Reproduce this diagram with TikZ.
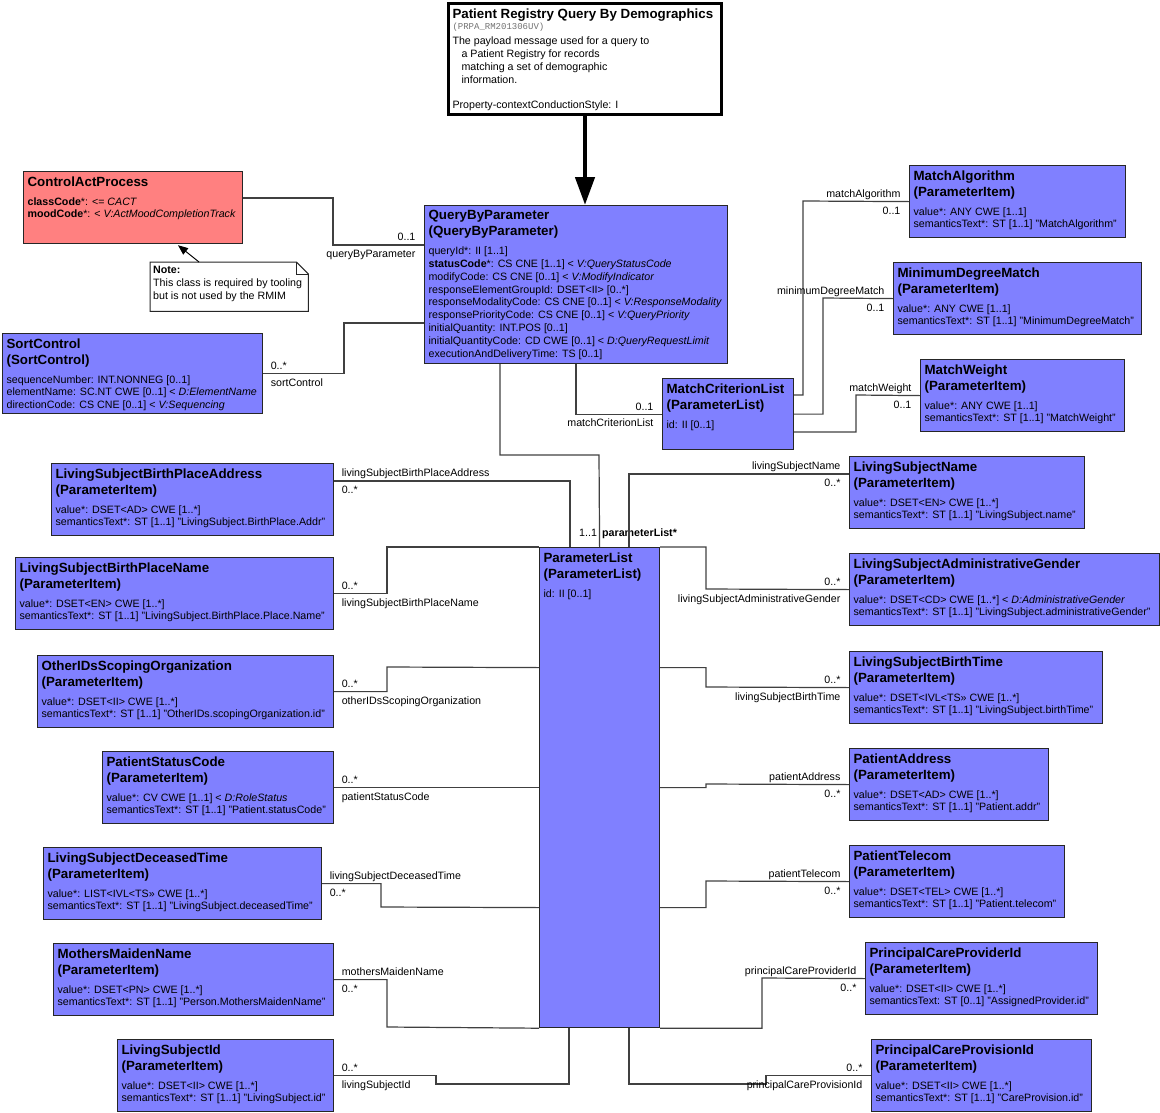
\documentclass[tikz,border=0pt]{standalone}
\usepackage{fontspec}
\setmainfont{Liberation Sans}
\newfontfamily\monofont{Liberation Mono}
\usetikzlibrary{arrows.meta,calc,positioning}

\definecolor{clsblue}{RGB}{128,128,255}
\definecolor{actred}{RGB}{255,128,128}

\newcommand{\titlefont}{\fontsize{13.33}{16}\selectfont\bfseries}
\newcommand{\attrfont}{\fontsize{10.67}{12.8}\selectfont\mdseries}
\newcommand{\boxbody}[4]{\parbox[c][\dimexpr#2pt-10pt\relax][t]{\dimexpr#1pt-8pt\relax}{\raggedright{\titlefont #3\par}\vspace{6pt}{\attrfont\begin{tabular}[t]{@{}l@{}}#4\end{tabular}\par}}}

\tikzset{
	cls/.style={draw=black!85, line width=1.2pt, fill=clsblue, anchor=north west, inner xsep=4pt, inner ysep=5pt},
	conn/.style={draw=black!75, line width=1.2pt},
	lbl/.style={font=\attrfont, inner sep=1pt, text height=8pt, text depth=2.5pt},
	upl/.style={lbl, anchor=south west, xshift=6pt},
	dnl/.style={lbl, anchor=north west, xshift=6pt, yshift=-3pt},
	upr/.style={lbl, anchor=south east, xshift=-7pt},
	dnr/.style={lbl, anchor=north east, xshift=-7pt, yshift=-3pt}
}

\begin{document}
\begin{tikzpicture}[x=1pt,y=-1pt]
\useasboundingbox (0,0) rectangle (1160,1112);

\node[cls, fill=white, draw=black, line width=3pt] (hdr) at (447,2) {\parbox[c][101pt][t]{265pt}{\raggedright
	{\titlefont\mbox{Patient Registry Query By Demographics}\par}
	{\fontsize{9}{11}\selectfont\monofont\color{black!55}(PRPA\_RM201306UV)\par}
	\vspace{3pt}
	{\attrfont The payload message used for a query to\\
	\hspace*{9pt}a Patient Registry for records\\
	\hspace*{9pt}matching a set of demographic\\
	\hspace*{9pt}information.\\[12.8pt]
	Property-contextConductionStyle: I\par}}};

\node[cls, fill=actred] (cap) at (23,171) {\boxbody{219}{72}{ControlActProcess}{\textbf{classCode}*: <= \textit{CACT}\\\textbf{moodCode}*: < \textit{V:ActMoodCompletionTrack}}};

\node[cls] (sort) at (2,333) {\boxbody{260}{80}{SortControl\\(SortControl)}{sequenceNumber: INT.NONNEG [0..1]\\elementName: SC.NT CWE [0..1] < \textit{D:ElementName}\\directionCode: CS CNE [0..1] < \textit{V:Sequencing}}};

\node[cls] (qbp) at (424,205) {\boxbody{303}{158}{QueryByParameter\\(QueryByParameter)}{queryId*: II [1..1]\\
	\textbf{statusCode}*: CS CNE [1..1] < \textit{V:QueryStatusCode}\\
	modifyCode: CS CNE [0..1] < \textit{V:ModifyIndicator}\\
	responseElementGroupId: DSET<II> [0..*]\\
	responseModalityCode: CS CNE [0..1] < \textit{V:ResponseModality}\\
	responsePriorityCode: CS CNE [0..1] < \textit{V:QueryPriority}\\
	initialQuantity: INT.POS [0..1]\\
	initialQuantityCode: CD CWE [0..1] < \textit{D:QueryRequestLimit}\\
	executionAndDeliveryTime: TS [0..1]}};

\node[cls] (mcl) at (662,378) {\boxbody{131}{71}{MatchCriterionList\\(ParameterList)}{id: II [0..1]}};
\node[cls] (pl) at (539,547) {\boxbody{120}{480}{ParameterList\\(ParameterList)}{id: II [0..1]}};

\foreach \nm/\px/\py/\bw/\ttl/\val/\sem in {
	malg/909/165/216/MatchAlgorithm/{value*: ANY CWE [1..1]}/{semanticsText*: ST [1..1] "MatchAlgorithm"},
	mdm/893/262/248/MinimumDegreeMatch/{value*: ANY CWE [1..1]}/{semanticsText*: ST [1..1] "MinimumDegreeMatch"},
	mw/920/359/204/MatchWeight/{value*: ANY CWE [1..1]}/{semanticsText*: ST [1..1] "MatchWeight"},
	lsbpa/51/463/282/LivingSubjectBirthPlaceAddress/{value*: DSET<AD> CWE [1..*]}/{semanticsText*: ST [1..1] "LivingSubject.BirthPlace.Addr"},
	lsbpn/15/557/318/LivingSubjectBirthPlaceName/{value*: DSET<EN> CWE [1..*]}/{semanticsText*: ST [1..1] "LivingSubject.BirthPlace.Place.Name"},
	oids/37/655/296/OtherIDsScopingOrganization/{value*: DSET<II> CWE [1..*]}/{semanticsText*: ST [1..1] "OtherIDs.scopingOrganization.id"},
	psc/102/751/231/PatientStatusCode/{value*: CV CWE [1..1] < \textit{D:RoleStatus}}/{semanticsText*: ST [1..1] "Patient.statusCode"},
	lsdt/43/847/278/LivingSubjectDeceasedTime/{value*: LIST<IVL<TS>> CWE [1..*]}/{semanticsText*: ST [1..1] "LivingSubject.deceasedTime"},
	mmn/53/943/280/MothersMaidenName/{value*: DSET<PN> CWE [1..*]}/{semanticsText*: ST [1..1] "Person.MothersMaidenName"},
	lsid/117/1039/216/LivingSubjectId/{value*: DSET<II> CWE [1..*]}/{semanticsText*: ST [1..1] "LivingSubject.id"},
	lsn/849/456/235/LivingSubjectName/{value*: DSET<EN> CWE [1..*]}/{semanticsText*: ST [1..1] "LivingSubject.name"},
	lsag/849/553/310/LivingSubjectAdministrativeGender/{value*: DSET<CD> CWE [1..*] < \textit{D:AdministrativeGender}}/{semanticsText*: ST [1..1] "LivingSubject.administrativeGender"},
	lsbt/849/651/253/LivingSubjectBirthTime/{value*: DSET<IVL<TS>> CWE [1..*]}/{semanticsText*: ST [1..1] "LivingSubject.birthTime"},
	pa/849/748/199/PatientAddress/{value*: DSET<AD> CWE [1..*]}/{semanticsText*: ST [1..1] "Patient.addr"},
	pt/849/845/215/PatientTelecom/{value*: DSET<TEL> CWE [1..*]}/{semanticsText*: ST [1..1] "Patient.telecom"},
	pcpr/865/942/232/PrincipalCareProviderId/{value*: DSET<II> CWE [1..*]}/{semanticsText: ST [0..1] "AssignedProvider.id"},
	pcpv/871/1039/220/PrincipalCareProvisionId/{value*: DSET<II> CWE [1..*]}/{semanticsText*: ST [1..1] "CareProvision.id"}}
{
	\node[cls] (\nm) at (\px,\py) {\boxbody{\bw}{72}{\ttl\\(ParameterItem)}{\val\\\sem}};
}

\node[anchor=north west, inner xsep=3pt, inner ysep=4pt, fill=white] (note) at (150,262) {\parbox[c][41pt][t]{152pt}{\raggedright\attrfont\textbf{Note:}\\This class is required by tooling\\but is not used by the RMIM}};
\draw[line width=1pt, draw=black!85] (note.north west) -- ($(note.north east)+(-12,0)$) -- ($(note.north east)+(0,12)$) -- (note.south east) -- (note.south west) -- cycle;
\draw[line width=1pt, draw=black!85] ($(note.north east)+(-12,0)$) |- ($(note.north east)+(0,12)$);
\draw[line width=1pt, -{Triangle[length=10pt,width=8pt]}] ($(note.north west)+(49,0)$) -- ($(cap.south west)+(155,1)$);

\draw[line width=4.5pt, -{Triangle[length=28pt,width=19pt]}] (hdr.south) -- (hdr.south |- qbp.north);

\draw[conn] ($(cap.north east)+(0,27)$) -| (333,245) -- ($(qbp.north west)+(0,40)$) node[upr] {0..1} node[dnr] {queryByParameter};
\draw[conn] (sort.east) node[upl] {0..*} node[dnl] {sortControl} -| (344,323) -- ($(qbp.north west)+(0,118)$);
\draw[conn] ($(qbp.south west)+(76,0)$) |- (599,455) -- (pl.north) node[lbl, anchor=south east, xshift=-1pt, yshift=6pt] {1..1} node[lbl, anchor=south west, xshift=1pt, yshift=6pt, font=\attrfont\bfseries] {parameterList*};
\draw[conn] ($(qbp.south west)+(152,0)$) |- (mcl.west) node[upr] {0..1} node[dnr] {matchCriterionList};

\draw[conn] ($(mcl.north east)+(0,17)$) -| (803,201) -- (malg.west) node[upr] {matchAlgorithm} node[dnr] {0..1};
\draw[conn] (mcl.east) -| (823,298) -- (mdm.west) node[upr] {minimumDegreeMatch} node[dnr] {0..1};
\draw[conn] ($(mcl.north east)+(0,54)$) -| (856,395) -- (mw.west) node[upr] {matchWeight} node[dnr] {0..1};

\draw[conn] ($(lsbpa.north east)+(0,18)$) node[upl] {livingSubjectBirthPlaceAddress} node[dnl] {0..*} -| ($(pl.north west)+(31,0)$);
\draw[conn] (lsbpn.east) node[upl] {0..*} node[dnl] {livingSubjectBirthPlaceName} -| (387,547) -- (pl.north west);
\draw[conn] (oids.east) node[upl] {0..*} node[dnl] {otherIDsScopingOrganization} -| (387,667) -- ($(pl.west)+(0,-120)$);
\draw[conn] (psc.east) node[upl] {0..*} node[dnl] {patientStatusCode} -- (pl.west);
\draw[conn] (lsdt.east) node[upl] {livingSubjectDeceasedTime} node[dnl] {0..*} -| (381,907) -- ($(pl.west)+(0,120)$);
\draw[conn] (mmn.east) node[upl] {mothersMaidenName} node[dnl] {0..*} -| (387,1027) -- (pl.south west);
\draw[conn] (lsid.east) node[upl] {0..*} node[dnl] {livingSubjectId} -| (436,1084) -| ($(pl.south west)+(30,0)$);

\draw[conn] ($(lsn.north west)+(0,18)$) node[upr] {livingSubjectName} node[dnr] {0..*} -| ($(pl.north west)+(90,0)$);
\draw[conn] (pl.north east) -| (706,589) -- (lsag.west) node[upr] {0..*} node[dnr] {livingSubjectAdministrativeGender};
\draw[conn] ($(pl.east)+(0,-120)$) -| (706,687) -- (lsbt.west) node[upr] {0..*} node[dnr] {livingSubjectBirthTime};
\draw[conn] (pl.east) -| (706,784) -- (pa.west) node[upr] {patientAddress} node[dnr] {0..*};
\draw[conn] ($(pl.east)+(0,120)$) -| (706,881) -- (pt.west) node[upr] {patientTelecom} node[dnr] {0..*};
\draw[conn] (pl.south east) -| (762,978) -- (pcpr.west) node[upr] {principalCareProviderId} node[dnr] {0..*};
\draw[conn] ($(pl.south west)+(90,0)$) |- (766,1084) |- (pcpv.west) node[upr] {0..*} node[dnr] {principalCareProvisionId};

\end{tikzpicture}
\end{document}
